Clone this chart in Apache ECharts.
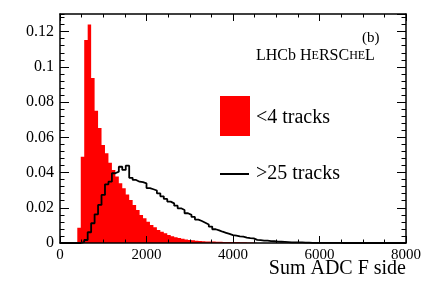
<!DOCTYPE html>
<html>
<head>
<meta charset="utf-8">
<script src="https://cdn.jsdelivr.net/npm/echarts@6/dist/echarts.min.js"></script>
<style>html,body{margin:0;padding:0;background:#fff;}#c{width:427px;height:290px;}</style>
</head>
<body>
<div id="c"></div>
<script>
// Histogram bins: 100 bins of width 80 over 0..8000
const binWidth = 80;
const nBins = 100;
// <4 tracks (red, filled)
const lowTracks = [
  0, 0, 0, 0, 0, 0.0087, 0.049, 0.1153, 0.124, 0.0937,
  0.0751, 0.0653, 0.0557, 0.051, 0.0456, 0.0415, 0.0377, 0.0339, 0.0311, 0.0275,
  0.0244, 0.0216, 0.0187, 0.0159, 0.014, 0.0121, 0.0102, 0.0089, 0.0074, 0.0064,
  0.0055, 0.0045, 0.0039, 0.0032, 0.0028, 0.0024, 0.0020, 0.0017, 0.0015, 0.0013,
  0.0011, 0.0010, 0.0009, 0.0008, 0.0008, 0.0007, 0.0007, 0.0006, 0.0006, 0.0005,
  0.0005, 0.0005, 0.0004, 0.0004, 0.0003, 0.0003, 0.0002, 0, 0, 0,
  0, 0, 0, 0, 0, 0, 0, 0, 0, 0,
  0, 0, 0, 0, 0, 0, 0, 0, 0, 0,
  0, 0, 0, 0, 0, 0, 0, 0, 0, 0,
  0, 0, 0, 0, 0, 0, 0, 0, 0, 0
];
// >25 tracks (black line)
const highTracks = [
  0, 0, 0, 0, 0, 0, 0.0005, 0.0017, 0.0061, 0.0112,
  0.0163, 0.0216, 0.0273, 0.0333, 0.0348, 0.0396, 0.0405, 0.0433, 0.0415, 0.0439,
  0.037, 0.0358, 0.0348, 0.0345, 0.0339, 0.0312, 0.0305, 0.0298, 0.0282, 0.0265,
  0.0250, 0.0235, 0.0225, 0.0212, 0.0197, 0.0187, 0.0169, 0.0160, 0.0148, 0.0133,
  0.0125, 0.0115, 0.0105, 0.0093, 0.0078, 0.0072, 0.0064, 0.0058, 0.0052, 0.0045,
  0.0042, 0.0038, 0.0036, 0.0031, 0.0028, 0.0026, 0.0018, 0.0016, 0.0014, 0.0013,
  0.0011, 0.0010, 0.0008, 0.0007, 0.0006, 0.0005, 0.0004, 0.0004, 0.0003, 0.0003,
  0.0002, 0.0002, 0.0001, 0.0001, 0.0001, 0.0001, 0.0001, 0.0001, 0.0001, 0.0001,
  0.0001, 0, 0, 0, 0, 0, 0, 0, 0, 0,
  0, 0, 0, 0, 0, 0, 0, 0, 0, 0
];
const xTicks = [0, 2000, 4000, 6000, 8000];
const yTicks = [0, 0.02, 0.04, 0.06, 0.08, 0.1, 0.12];
const seriesNames = ['<4 tracks', '>25 tracks'];
const xTitle = 'Sum ADC F side';

function toSteps(vals) {
  const pts = vals.map((v, i) => [i * binWidth, v]);
  pts.push([nBins * binWidth, 0]);
  return pts;
}

const FONT = 'Liberation Serif';
const black = '#000';
const chart = echarts.init(document.getElementById('c'), null, {renderer: 'canvas'});

function xAx(pos, labels) {
  return {
    type: 'value', position: pos, min: 0, max: 8000, interval: 2000, z: 5,
    axisLine: {show: true, onZero: false, lineStyle: {color: black, width: 1.5}},
    axisTick: {show: true, inside: true, length: 7, lineStyle: {color: black, width: 1}},
    minorTick: {show: true, splitNumber: 4, length: 3.5, lineStyle: {color: black, width: 1}},
    splitLine: {show: false}, minorSplitLine: {show: false},
    axisLabel: labels ? {show: true, fontFamily: FONT, fontSize: 15, color: black, margin: 5,
      formatter: v => xTicks.indexOf(v) >= 0 ? String(v) : ''} : {show: false}
  };
}
function yAx(pos, major, labels) {
  return {
    type: 'value', position: pos, min: 0, max: 0.13, interval: major ? 0.02 : 0.004, z: 5,
    axisLine: {show: major, onZero: false, lineStyle: {color: black, width: 1.5}},
    axisTick: {show: true, inside: true, length: major ? 9 : 4.5, lineStyle: {color: black, width: 1}},
    splitLine: {show: false},
    axisLabel: labels ? {show: true, fontFamily: FONT, fontSize: 16, color: black, margin: 6, showMaxLabel: false,
      formatter: v => {
        const m = yTicks.find(t => Math.abs(t - v) < 1e-9);
        return m === undefined ? '' : String(m);
      }} : {show: false}
  };
}

// red filled histogram drawn as one polygon through the axis scales
function renderFilledHist(params, api) {
  const pts = [api.coord([0, 0])];
  for (let i = 0; i < lowTracks.length; i++) {
    pts.push(api.coord([i * binWidth, lowTracks[i]]));
    pts.push(api.coord([(i + 1) * binWidth, lowTracks[i]]));
  }
  pts.push(api.coord([nBins * binWidth, 0]));
  return {type: 'polygon', shape: {points: pts}, style: {fill: '#ff0000', stroke: null}};
}

chart.setOption({
  animation: false,
  backgroundColor: '#fff',
  grid: {left: 60, right: 21, top: 14, bottom: 47, containLabel: false, outerBoundsMode: 'none'},
  xAxis: [xAx('bottom', true), xAx('top', false)],
  yAxis: [yAx('left', true, true), yAx('left', false, false), yAx('right', true, false), yAx('right', false, false)],
  series: [
    {
      name: seriesNames[0], type: 'custom', coordinateSystem: 'cartesian2d', xAxisIndex: 0, yAxisIndex: 0,
      data: [[0, 0]], renderItem: renderFilledHist, clip: true, z: 2, silent: true
    },
    {
      name: seriesNames[1], type: 'line', step: 'end', xAxisIndex: 0, yAxisIndex: 0,
      data: toSteps(highTracks), showSymbol: false, symbol: 'none',
      lineStyle: {color: black, width: 1.8},
      z: 3
    }
  ],
  graphic: [
    {type: 'text', right: 21, top: 259, style: {text: xTitle, font: '20px "Liberation Serif"', fill: black}},
    {type: 'text', left: 362, top: 31, style: {text: '(b)', font: '15px "Liberation Serif"', fill: black}},
    {type: 'text', left: 256, top: 48, style: {
      text: '{b|LHCb H}{s|E}{b|RSC}{s|HE}{b|L}',
      rich: {
        b: {fontFamily: FONT, fontSize: 16, fill: black, color: black},
        s: {fontFamily: FONT, fontSize: 12, fill: black, color: black}
      }, fill: black}},
    {type: 'rect', shape: {x: 220, y: 96, width: 30, height: 40}, style: {fill: '#ff0000'}},
    {type: 'text', left: 256, top: 108, style: {text: seriesNames[0], font: '20px "Liberation Serif"', fill: black}},
    {type: 'line', shape: {x1: 220, y1: 174, x2: 249, y2: 174}, style: {stroke: black, lineWidth: 2}},
    {type: 'text', left: 256, top: 164, style: {text: seriesNames[1], font: '20px "Liberation Serif"', fill: black}}
  ]
});
</script>
</body>
</html>
